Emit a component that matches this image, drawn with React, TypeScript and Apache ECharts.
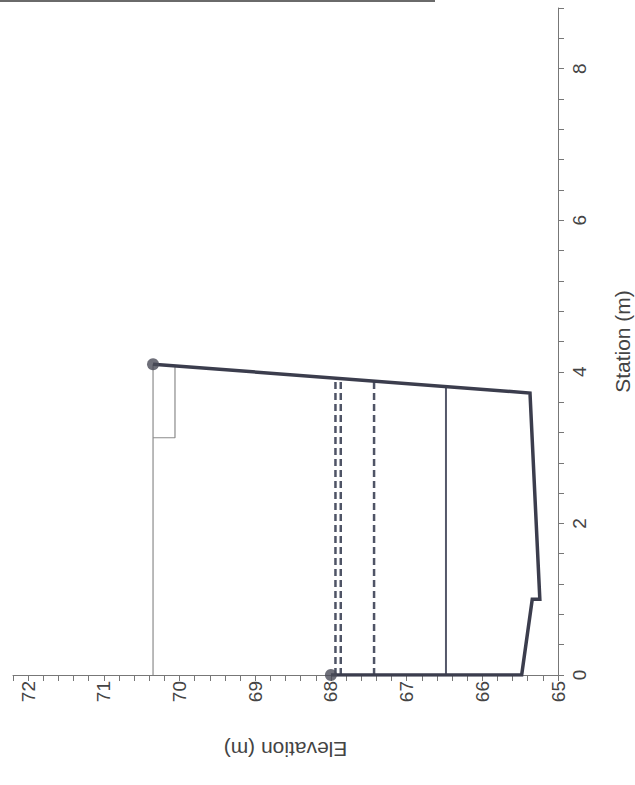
import React, { useEffect, useRef } from "react";
import * as echarts from "echarts";

// Cross-section profile (elevation in m, station in m)
const profileElevation = [68.0, 65.48, 65.34, 65.24, 65.37, 70.35];
const profileStation = [0, 0, 1.0, 1.0, 3.72, 4.1];

// Bank-top points marked with dots
const markerElevation = [68.0, 70.35];
const markerStation = [0, 4.1];

// Thin top line and its small box
const topLineElevation = [70.35, 70.35];
const topLineStation = [0, 4.1];
const boxElevation = [70.35, 70.06, 70.06];
const boxStation = [3.13, 3.13, 4.08];

// Dashed water levels
const dashedLevels = [67.94, 67.87, 67.43];
const dashedEndStation = [3.91, 3.91, 3.88];

// Solid water level
const solidLevel = 66.48;
const solidEndStation = 3.8;

// Axis ranges / tick labels
const elevationMin = 65;
const elevationMax = 72.2;
const stationMin = 0;
const stationMax = 8.8;

const FONT = "'Liberation Sans', Arial, sans-serif";

export default function App() {
  const ref = useRef<HTMLDivElement>(null);

  useEffect(() => {
    if (!ref.current) return;
    const chart = echarts.init(ref.current, undefined, { renderer: "svg" });

    const pts = (xs: number[], ys: number[]) => xs.map((x, i) => [x, ys[i]]);

    const dashedSeries = dashedLevels.map((lv, i) => ({
      type: "line",
      data: [
        [lv, 0],
        [lv, dashedEndStation[i]],
      ],
      showSymbol: false,
      lineStyle: { color: "#4f5466", width: 2.5, type: [7, 4] },
      z: 3,
    }));

    chart.setOption({
      animation: false,
      backgroundColor: "#ffffff",
      grid: {
        left: 13,
        right: 77,
        top: 8,
        bottom: 110,
        containLabel: false,
        outerBoundsMode: "none",
      },
      graphic: [
        {
          type: "rect",
          shape: { x: 0, y: 0, width: 435, height: 2 },
          style: { fill: "#6a6a6a" },
        },
      ],
      xAxis: {
        type: "value",
        inverse: true,
        min: elevationMin,
        max: elevationMax,
        interval: 0.2,
        position: "bottom",
        name: "Elevation (m)",
        nameLocation: "middle",
        nameRotate: 180,
        nameGap: 64,
        nameTextStyle: { color: "#444", fontSize: 21, fontFamily: FONT },
        axisLine: { onZero: false, lineStyle: { color: "#777", width: 1 } },
        axisTick: { show: true, length: 6, lineStyle: { color: "#777" } },
        axisLabel: {
          rotate: 90,
          margin: 6,
          color: "#444",
          fontSize: 19,
          fontFamily: FONT,
          formatter: (v: number) =>
            Math.abs(v - Math.round(v)) < 1e-6 ? String(Math.round(v)) : "",
        },
        splitLine: { show: false },
      },
      yAxis: {
        type: "value",
        min: stationMin,
        max: stationMax,
        interval: 0.4,
        position: "right",
        name: "Station (m)",
        nameLocation: "middle",
        nameRotate: 90,
        nameGap: 54,
        nameTextStyle: { color: "#444", fontSize: 21, fontFamily: FONT },
        axisLine: { onZero: false, lineStyle: { color: "#777", width: 1 } },
        axisTick: { show: true, length: 6, lineStyle: { color: "#777" } },
        axisLabel: {
          rotate: 90,
          margin: 12,
          color: "#444",
          fontSize: 19,
          fontFamily: FONT,
          formatter: (v: number) => {
            const r = Math.round(v);
            return Math.abs(v - r) < 1e-6 && r % 2 === 0 ? String(r) : "";
          },
        },
        splitLine: { show: false },
      },
      series: [
        {
          type: "line",
          data: pts(topLineElevation, topLineStation),
          showSymbol: false,
          lineStyle: { color: "#8c8c8c", width: 1.2 },
          z: 2,
        },
        {
          type: "line",
          data: pts(boxElevation, boxStation),
          showSymbol: false,
          lineStyle: { color: "#8c8c8c", width: 1.2 },
          z: 2,
        },
        ...dashedSeries,
        {
          type: "line",
          data: [
            [solidLevel, 0],
            [solidLevel, solidEndStation],
          ],
          showSymbol: false,
          lineStyle: { color: "#55586a", width: 2 },
          z: 3,
        },
        {
          type: "line",
          data: pts(profileElevation, profileStation),
          showSymbol: false,
          lineStyle: { color: "#3b3d4d", width: 3.5, join: "miter" },
          z: 4,
        },
        {
          type: "scatter",
          data: pts(markerElevation, markerStation),
          symbol: "circle",
          symbolSize: 12,
          itemStyle: { color: "#4a4b57" },
          z: 5,
        },
      ],
    });

    return () => chart.dispose();
  }, []);

  return (
    <div
      ref={ref}
      style={{ position: "fixed", left: 0, top: 0, width: 635, height: 785 }}
    />
  );
}
